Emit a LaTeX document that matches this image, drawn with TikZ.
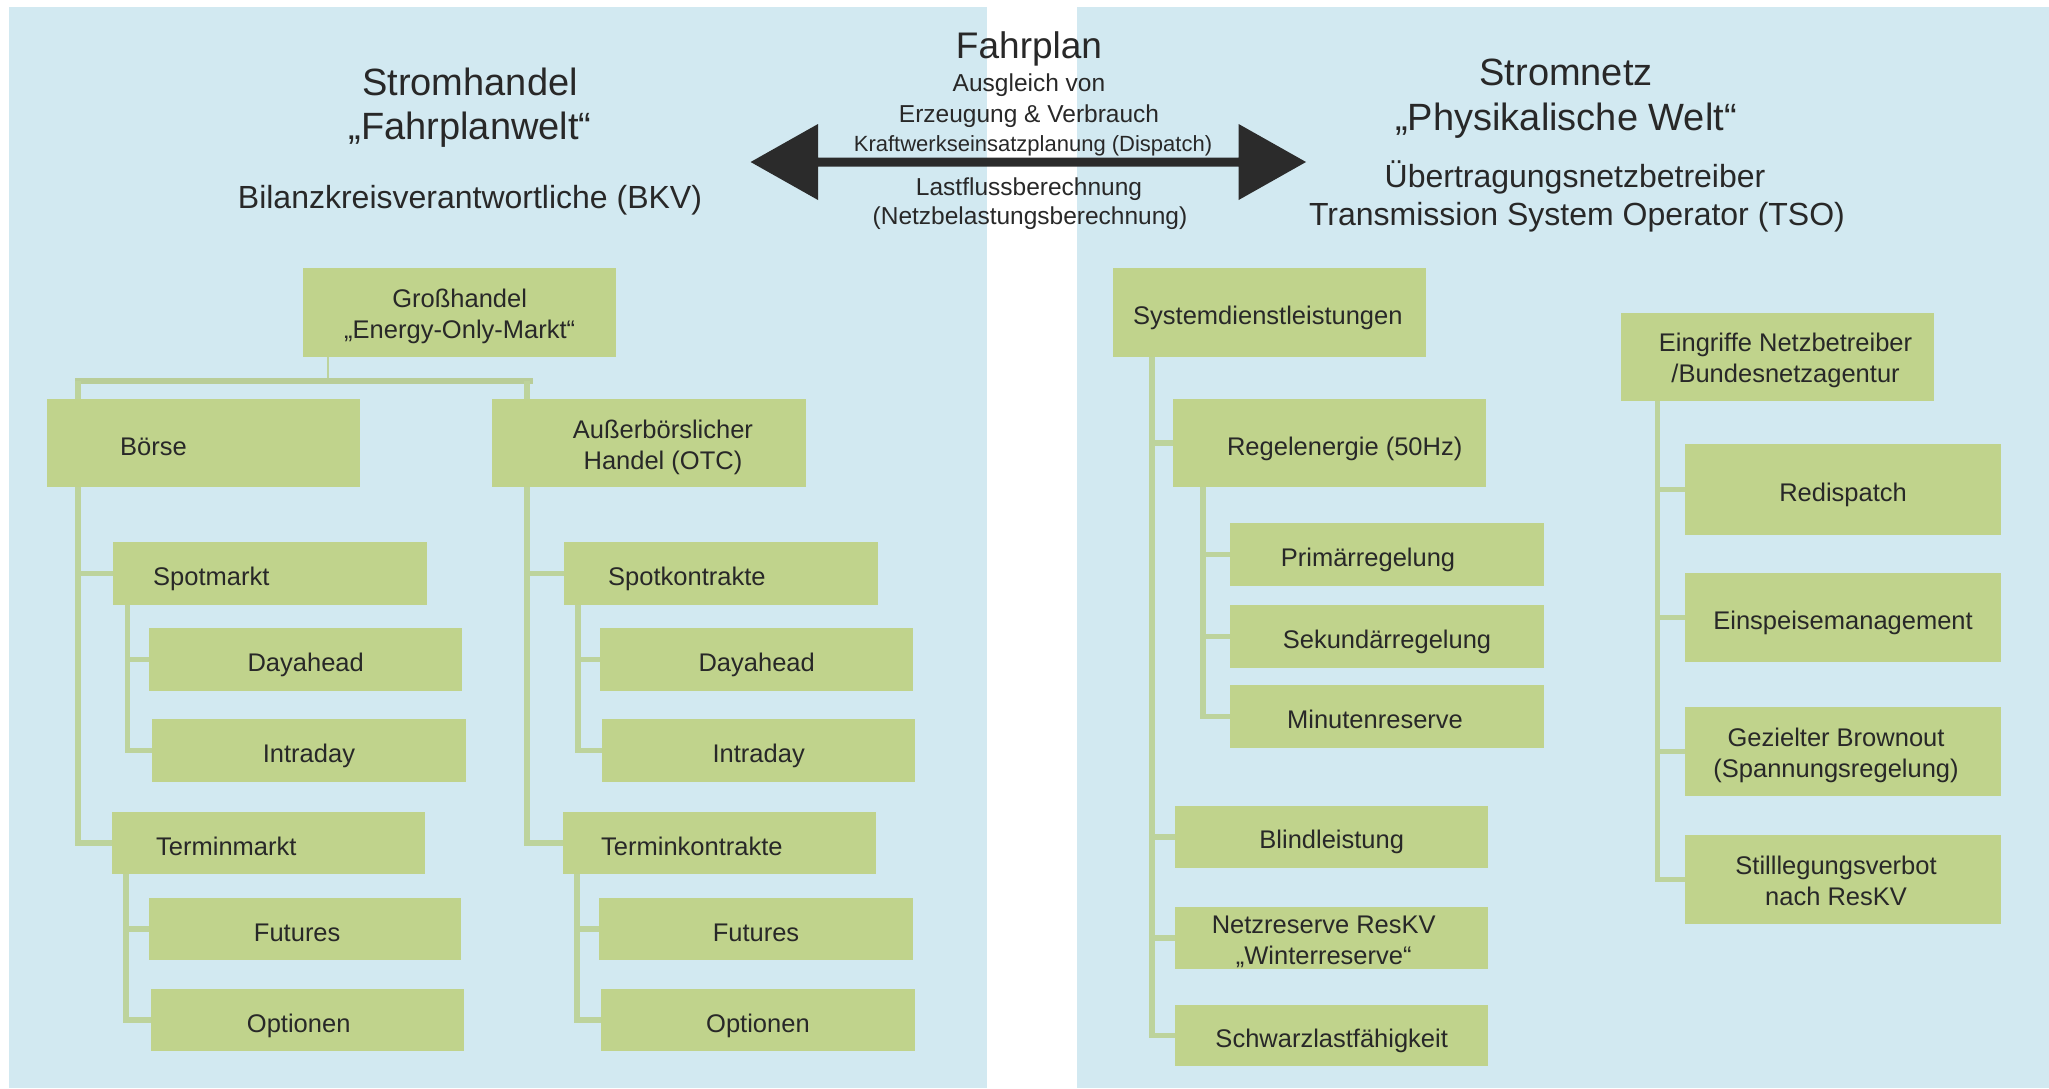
\documentclass[tikz,border=0pt]{standalone}
\usepackage{fontspec}
\setmainfont{Liberation Sans}
\usetikzlibrary{calc}
\pgfdeclarelayer{bg}
\pgfdeclarelayer{lines}
\pgfsetlayers{bg,lines,main}
\definecolor{panelc}{HTML}{D2E9F1}
\definecolor{boxc}{HTML}{C0D38C}
\definecolor{linec}{HTML}{BDD39C}
\definecolor{barc}{HTML}{B9CD98}
\definecolor{textc}{HTML}{282828}
\definecolor{arrowc}{HTML}{2B2B2B}
\newcommand\bxfont{\fontsize{25.5}{31}\selectfont}
\newcommand\ttlfont{\fontsize{38}{44}\selectfont}
\newcommand\subfont{\fontsize{32}{36}\selectfont}
\newcommand\midfont{\fontsize{24.5}{30}\selectfont}
\newcommand\smlfont{\fontsize{22}{26}\selectfont}
\begin{document}
\begin{tikzpicture}[x=1pt,y=-1pt,
  every node/.append style={text=textc},
  box/.style={fill=boxc, inner sep=0pt, anchor=north west, font=\bxfont,
    align=center, text height=24pt, text depth=0pt},
  two/.style={text height=52pt, text depth=0pt},
  conn/.style={draw=linec, line width=5.5pt},
  thinconn/.style={draw=linec, line width=2.7pt},
  barconn/.style={draw=barc, line width=6pt},
  ttl/.style={anchor=base, font=\ttlfont},
  sub/.style={anchor=base, font=\subfont},
  mid/.style={anchor=base, font=\midfont},
  sml/.style={anchor=base, font=\smlfont}]
\useasboundingbox (0,0) rectangle (2049,1088);
\begin{pgfonlayer}{bg}
\fill[panelc] (9,7) rectangle (987,1088);
\fill[panelc] (1077,7) rectangle (2049,1088);
\end{pgfonlayer}

% titles
\node[ttl] (tstrom) at (470,95) {Stromhandel};
\node[ttl] (tfahrw) at (470,139) {„Fahrplanwelt“};
\node[sub] (tbkv) at (470,208) {Bilanzkreisverantwortliche (BKV)};
\node[ttl] (tnetz) at (1566,85.5) {Stromnetz};
\node[ttl] (tphys) at (1566,130) {„Physikalische Welt“};
\node[sub] (tuen) at (1575,187) {Übertragungsnetzbetreiber};
\node[sub] (ttso) at (1577,225) {Transmission System Operator (TSO)};
\node[anchor=base, font=\fontsize{37}{40}\selectfont] (tfp) at (1029,58) {Fahrplan};
\node[mid] (tausg) at (1029,91.5) {Ausgleich von};
\node[mid] (terz) at (1029,122.5) {Erzeugung \& Verbrauch};
\node[sml] (tkraft) at (1033,151.5) {Kraftwerkseinsatzplanung (Dispatch)};
\node[mid] (tlast) at (1029,195) {Lastflussberechnung};
\node[mid] (tnetzb) at (1030,224.5) {(Netzbelastungsberechnung)};

% double arrow
\coordinate (arrL) at (750.6,162);
\coordinate (arrR) at (1306,162);
\fill[arrowc] (arrL) -- ++(67.4,-38) -- ++(0,33.5) -- ($(arrR)+(-67.4,-4.5)$)
  -- ++(0,-33.5) -- (arrR) -- ++(-67.4,38) -- ++(0,-33.5)
  -- ($(arrL)+(67.4,4.5)$) -- ++(0,33.5) -- cycle;

% left panel boxes
\node[box, two, minimum width=313pt, minimum height=89pt] (gross) at (303,268) {Großhandel\\„Energy-Only-Markt“};
\node[box, align=left, inner xsep=73pt, text width=167pt, minimum width=313pt, minimum height=88pt] (boerse) at (47,399) {Börse};
\node[box, two, minimum width=313.5pt, minimum height=88pt] (otc) at (492,399) {\hspace*{28pt}Außerbörslicher\\\hspace*{28pt}Handel (OTC)};
\node[box, align=left, inner xsep=40pt, text width=234pt, minimum width=314pt, minimum height=62.6pt] (spotm) at (113,542) {Spotmarkt};
\node[box, minimum width=313pt, minimum height=62.5pt] (dayL) at (149,628) {Dayahead};
\node[box, minimum width=313.5pt, minimum height=62.6pt] (intraL) at (152,719) {Intraday};
\node[box, align=left, inner xsep=44pt, text width=225pt, minimum width=313pt, minimum height=62pt] (terminm) at (112,812) {Terminmarkt};
\node[box, minimum width=312pt, minimum height=62pt] (futL) at (149,898) {\hspace*{-16pt}Futures};
\node[box, minimum width=313pt, minimum height=62pt] (optL) at (151,989) {\hspace*{-18pt}Optionen};
\node[box, align=left, inner xsep=44pt, text width=225.5pt, minimum width=313.5pt, minimum height=62.6pt] (spotk) at (564,542) {Spotkontrakte};
\node[box, minimum width=313pt, minimum height=62.5pt] (dayR) at (600,628) {Dayahead};
\node[box, minimum width=313pt, minimum height=62.6pt] (intraR) at (602,719) {Intraday};
\node[box, align=left, inner xsep=38pt, text width=237pt, minimum width=313pt, minimum height=62pt] (termink) at (563,812) {Terminkontrakte};
\node[box, minimum width=313.6pt, minimum height=62pt] (futR) at (599,898) {Futures};
\node[box, minimum width=313.5pt, minimum height=62pt] (optR) at (601,989) {Optionen};

% right panel boxes
\node[box, align=left, inner xsep=20pt, text width=273pt, minimum width=313pt, minimum height=89pt] (sys) at (1113,268) {Systemdienstleistungen};
\node[box, minimum width=313pt, minimum height=88pt] (regel) at (1173,399) {\hspace*{30pt}Regelenergie (50Hz)};
\node[box, minimum width=313.6pt, minimum height=62.5pt] (prim) at (1230,523) {\hspace*{-38pt}Primärregelung};
\node[box, minimum width=313.6pt, minimum height=62.6pt] (sek) at (1230,605) {Sekundärregelung};
\node[box, minimum width=313.6pt, minimum height=62.5pt] (minu) at (1230,685) {\hspace*{-24pt}Minutenreserve};
\node[box, minimum width=313pt, minimum height=61.5pt] (blind) at (1175,806) {Blindleistung};
\node[box, two, minimum width=313pt, minimum height=62.2pt] (netzr) at (1175,906.8) {\hspace*{-16pt}Netzreserve ResKV\\\hspace*{-16pt}„Winterreserve“};
\node[box, minimum width=313pt, minimum height=61pt] (schwarz) at (1175,1005) {Schwarzlastfähigkeit};
\node[box, two, minimum width=313.3pt, minimum height=88.6pt] (eingr) at (1620.7,312.4) {\hspace*{16pt}Eingriffe Netzbetreiber\\\hspace*{16pt}/Bundesnetzagentur};
\node[box, minimum width=315.7pt, minimum height=90.5pt] (redis) at (1685,444) {Redispatch};
\node[box, minimum width=315.7pt, minimum height=89pt] (einsp) at (1685,573) {Einspeisemanagement};
\node[box, two, minimum width=315.7pt, minimum height=89pt] (brown) at (1685,707) {\hspace*{-14pt}Gezielter Brownout\\\hspace*{-14pt}(Spannungsregelung)};
\node[box, two, minimum width=315.7pt, minimum height=89pt] (still) at (1685,835) {\hspace*{-14pt}Stilllegungsverbot\\\hspace*{-14pt}nach ResKV};

% connectors
\begin{pgfonlayer}{lines}
\coordinate (barL) at ([xshift=28pt,yshift=18pt]boerse.north west);
\coordinate (barR) at ([xshift=40.5pt,yshift=18pt]otc.north west);
\draw[thinconn] ([xshift=25pt]gross.south west) -- ([xshift=25pt]gross.south west |- barL);
\draw[barconn] (barL) -- (barR);
\draw[conn] ([xshift=31pt]boerse.north west |- barL) |- (spotm.west);
\draw[conn] ([xshift=31pt]boerse.north west |- barL) |- (terminm.west);
\draw[conn] ([xshift=35pt]otc.north west |- barL) |- (spotk.west);
\draw[conn] ([xshift=35pt]otc.north west |- barL) |- (termink.west);
\draw[conn] ([xshift=14.5pt]spotm.south west) |- (dayL.west);
\draw[conn] ([xshift=14.5pt]spotm.south west) |- (intraL.west);
\draw[conn] ([xshift=14pt]terminm.south west) |- (futL.west);
\draw[conn] ([xshift=14pt]terminm.south west) |- (optL.west);
\draw[conn] ([xshift=14pt]spotk.south west) |- (dayR.west);
\draw[conn] ([xshift=14pt]spotk.south west) |- (intraR.west);
\draw[conn] ([xshift=14pt]termink.south west) |- (futR.west);
\draw[conn] ([xshift=14pt]termink.south west) |- (optR.west);
\draw[conn] ([xshift=39pt]sys.south west) |- (regel.west);
\draw[conn] ([xshift=39pt]sys.south west) |- (blind.west);
\draw[conn] ([xshift=39pt]sys.south west) |- (netzr.west);
\draw[conn] ([xshift=39pt]sys.south west) |- (schwarz.west);
\draw[conn] ([xshift=30pt]regel.south west) |- (prim.west);
\draw[conn] ([xshift=30pt]regel.south west) |- (sek.west);
\draw[conn] ([xshift=30pt]regel.south west) |- (minu.west);
\draw[conn] ([xshift=37pt]eingr.south west) |- (redis.west);
\draw[conn] ([xshift=37pt]eingr.south west) |- (einsp.west);
\draw[conn] ([xshift=37pt]eingr.south west) |- (brown.west);
\draw[conn] ([xshift=37pt]eingr.south west) |- (still.west);
\end{pgfonlayer}
\end{tikzpicture}
\end{document}
